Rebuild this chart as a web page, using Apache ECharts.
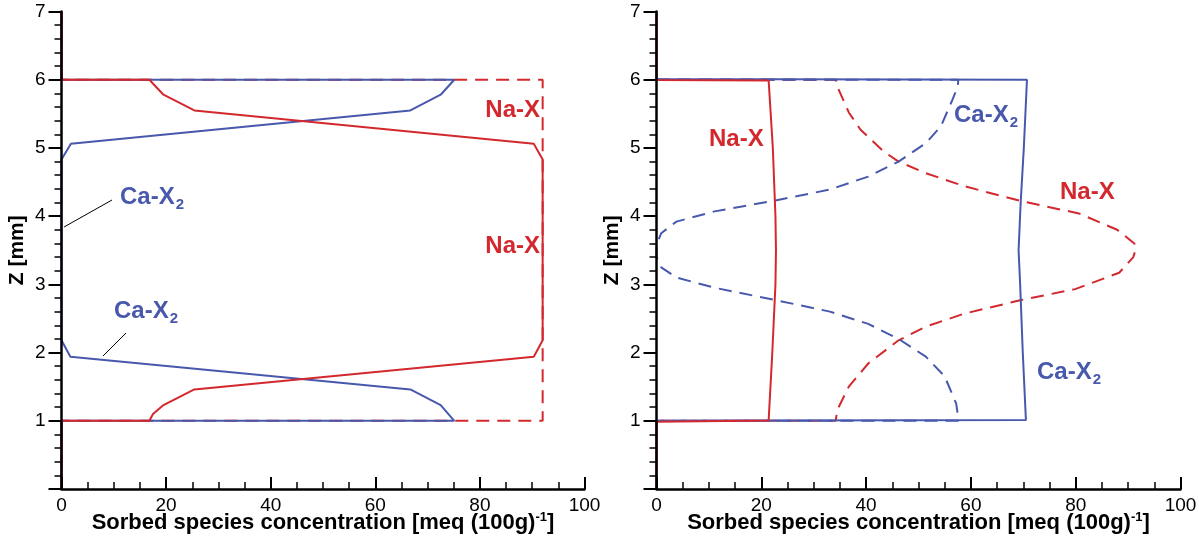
<!DOCTYPE html>
<html>
<head>
<meta charset="utf-8">
<script src="https://cdn.jsdelivr.net/npm/echarts@6.0.0/dist/echarts.min.js"></script>
<style>
  html, body { margin: 0; padding: 0; background: #fff; }
  #chart { width: 1199px; height: 537px; }
</style>
</head>
<body>
<div id="chart"></div>
<script>
// left panel: profiles [conc, z]
var leftNaX = [[0, 0], [0, 1], [16.8, 1], [17.5, 1.1], [19.5, 1.23], [25.4, 1.46], [90.3, 1.94], [92, 2.18],
  [92, 4.83], [90.3, 5.06], [25.4, 5.55], [19.5, 5.78], [16.8, 6], [0, 6], [0, 7]];
var leftCaX2 = [[0, 0], [0, 1], [75.1, 1], [72.5, 1.23], [66.7, 1.46], [1.7, 1.94], [0, 2.18],
  [0, 4.83], [1.8, 5.06], [66.7, 5.55], [72.5, 5.78], [75.1, 6], [0, 6], [0, 7]];
var leftNaXDash = [[0, 0], [0, 1], [92, 1], [92, 6], [0, 6], [0, 7]];

// right panel
var rightNaX = [[0, 0], [0, 0.985], [21.4, 1.005], [22.1, 2], [22.7, 3], [22.8, 3.5], [22.7, 4], [22.2, 5],
  [21.4, 5.99], [0, 5.995], [0, 7]];
var rightCaX2 = [[0, 0], [0, 1], [70.5, 1.01], [69.9, 2], [69.4, 3], [69.1, 3.5], [69.5, 4.2], [70.1, 5],
  [70.7, 6], [0, 6.01], [0, 7]];
var rightNaXDash = [[0, 6], [34.2, 6], [34.5, 5.9], [36.7, 5.52], [38.9, 5.27], [43.3, 4.95], [46.2, 4.8],
  [51.4, 4.63], [58.7, 4.44], [69.6, 4.22], [80.6, 4.04], [87.9, 3.8], [91.2, 3.6], [91.4, 3.5], [91, 3.4],
  [88.3, 3.17], [79.9, 2.93], [69.6, 2.77], [58.7, 2.57], [51.4, 2.38], [46.2, 2.18], [40.4, 1.84],
  [36.7, 1.5], [34.5, 1.16], [34.2, 1], [0, 1]];
var rightCaX2Dash = [[0, 6], [57.6, 6], [57.5, 5.9], [56.5, 5.71], [54.3, 5.32], [51.4, 5.07], [46.2, 4.8],
  [40.4, 4.58], [33.1, 4.39], [22.7, 4.23], [11.1, 4.07], [3.8, 3.92], [0.9, 3.75], [0, 3.58], [0, 3.4],
  [0.9, 3.25], [3.8, 3.1], [11.1, 2.95], [22.7, 2.77], [33.1, 2.6], [40.4, 2.42], [46.2, 2.2], [51.4, 1.94],
  [55, 1.65], [57.2, 1.25], [57.6, 1.03], [57.6, 1], [0, 1]];

var xTicks = [0, 100, 20];   // min, max, step
var zTicks = [0, 7, 1];

var RED = '#d3282d';
var BLUE = '#4858ad';
var FONT = 'Liberation Sans, Arial, sans-serif';

var chart = echarts.init(document.getElementById('chart'));

function xAx(i) {
  return {
    gridIndex: i, type: 'value', min: xTicks[0], max: xTicks[1], interval: xTicks[2], z: 5,
    axisLine: { lineStyle: { color: '#000', width: 2.5 } },
    axisTick: { inside: true, length: 12, lineStyle: { color: '#000', width: 2 } },
    minorTick: { show: true, splitNumber: 4, length: 7, lineStyle: { color: '#000', width: 1.5 } },
    splitLine: { show: false },
    axisLabel: { fontSize: 19, color: '#000', margin: 7, fontFamily: FONT },
    name: 'Sorbed species concentration [meq (100g){sup|-1}]',
    nameLocation: 'middle', nameGap: 22, nameMoveOverlap: false,
    nameTextStyle: {
      fontSize: 22, fontWeight: 'bold', color: '#000', fontFamily: FONT,
      rich: { sup: { fontSize: 13, fontWeight: 'bold', color: '#000', fontFamily: FONT, verticalAlign: 'top', padding: [0, 0, 10, 0] } }
    }
  };
}
function yAx(i) {
  return {
    gridIndex: i, type: 'value', min: zTicks[0], max: zTicks[1], interval: zTicks[2], z: 5,
    axisLine: { lineStyle: { color: '#000', width: 2.5 } },
    axisTick: { inside: false, length: 13, lineStyle: { color: '#000', width: 2 } },
    minorTick: { show: true, splitNumber: 5, length: 7, lineStyle: { color: '#000', width: 1.5 } },
    splitLine: { show: false },
    axisLabel: { fontSize: 19, color: '#000', margin: 16, fontFamily: FONT, showMinLabel: false },
    name: 'Z [mm]', nameLocation: 'middle', nameGap: 34, nameRotate: 90, nameMoveOverlap: false,
    nameTextStyle: { fontSize: 21, fontWeight: 'bold', color: '#000', fontFamily: FONT }
  };
}
function ln(data, color, idx, dashed) {
  return {
    type: 'line', data: data, xAxisIndex: idx, yAxisIndex: idx, showSymbol: false, symbol: 'none',
    lineStyle: { color: color, width: 2, type: dashed ? [13, 8] : 'solid' },
    animation: false, z: dashed ? 2 : 3
  };
}

function lbl(x, y, txt, color, align) {
  return {
    type: 'text', x: x, y: y, z: 10,
    style: {
      text: txt, fill: color, font: 'bold 24px ' + FONT, align: align || 'left', verticalAlign: 'middle',
      rich: {
        m: { fill: color, fontSize: 24, fontWeight: 'bold', fontFamily: FONT },
        s: { fill: color, fontSize: 15, fontWeight: 'bold', fontFamily: FONT, padding: [16, 0, 0, 1] }
      }
    }
  };
}
function leader(x1, y1, x2, y2) {
  return { type: 'line', z: 10, shape: { x1: x1, y1: y1, x2: x2, y2: y2 }, style: { stroke: '#000', lineWidth: 1 } };
}

chart.setOption({
  animation: false,
  grid: [
    { left: 61.5, top: 11.5, width: 523, height: 477.5, containLabel: false, outerBoundsMode: 'none' },
    { left: 656.5, top: 11.5, width: 524, height: 477.5, containLabel: false, outerBoundsMode: 'none' }
  ],
  xAxis: [xAx(0), xAx(1)],
  yAxis: [yAx(0), yAx(1)],
  series: [
    ln(leftNaXDash, RED, 0, true),
    ln(leftCaX2, BLUE, 0),
    ln(leftNaX, RED, 0),
    ln(rightNaXDash, RED, 1, true),
    ln(rightCaX2Dash, BLUE, 1, true),
    ln(rightCaX2, BLUE, 1),
    ln(rightNaX, RED, 1)
  ],
  graphic: [
    lbl(540, 110, 'Na-X', RED, 'right'),
    lbl(540, 246, 'Na-X', RED, 'right'),
    lbl(120, 197, '{m|Ca-X}{s|2}', BLUE),
    lbl(114, 311, '{m|Ca-X}{s|2}', BLUE),
    leader(64, 227, 112, 200),
    leader(103, 356, 126, 333),
    lbl(709, 139, 'Na-X', RED),
    lbl(954, 115, '{m|Ca-X}{s|2}', BLUE),
    lbl(1060, 192, 'Na-X', RED),
    lbl(1037, 372, '{m|Ca-X}{s|2}', BLUE)
  ]
});
</script>
</body>
</html>
